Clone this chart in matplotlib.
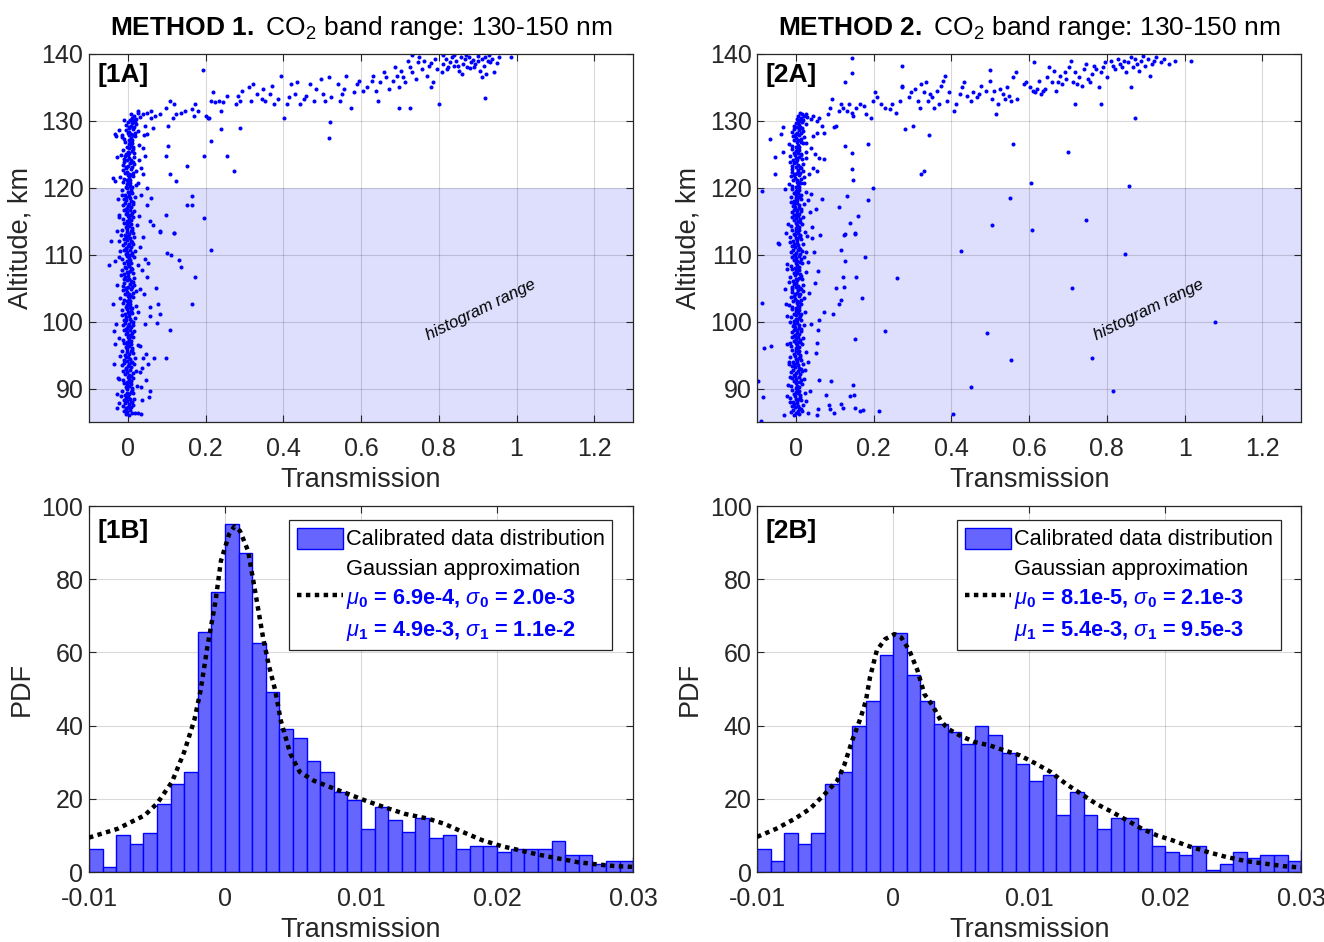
import numpy as np
import matplotlib.pyplot as plt
from matplotlib.patches import Patch
from matplotlib.lines import Line2D

plt.rcParams['font.family'] = ['Liberation Sans', 'DejaVu Sans']
plt.rcParams['mathtext.fontset'] = 'custom'
plt.rcParams['mathtext.rm'] = 'Liberation Sans'
plt.rcParams['mathtext.it'] = 'Liberation Sans:italic'
plt.rcParams['mathtext.bf'] = 'Liberation Sans:bold'

# ---------------- top panels: (transmission, altitude km) ----------------
col_1a = [
    (0.003,86.1),(-0.006,86.2),(0.011,86.4),(-0.002,86.5),(0.019,86.3),(-0.011,86.7),(0.006,86.8),(-0.004,86.95),
    (-0.005,87.05),(0.009,87.2),(0.000,87.3),(-0.013,87.45),(0.014,87.6),(0.004,87.7),(-0.008,87.85),(0.010,87.95),
    (0.008,88.0),(-0.003,88.15),(-0.010,88.25),(0.005,88.4),(0.017,88.5),(-0.006,88.65),(0.001,88.75),(-0.017,88.9),
    (-0.008,89.05),(0.002,89.15),(0.012,89.3),(-0.001,89.4),(0.007,89.55),(-0.015,89.65),(0.010,89.8),(-0.003,89.9),
    (0.010,90.1),(-0.006,90.2),(0.004,90.35),(0.024,90.45),(-0.001,90.6),(0.007,90.7),(-0.011,90.85),(0.002,90.95),
    (-0.002,91.0),(0.007,91.15),(-0.013,91.25),(0.003,91.4),(-0.022,91.5),(0.014,91.65),(0.000,91.75),(0.009,91.9),
    (0.003,92.05),(-0.007,92.15),(0.012,92.3),(-0.002,92.4),(0.020,92.55),(-0.012,92.65),(0.006,92.8),(-0.004,92.9),
    (-0.005,93.1),(0.009,93.2),(0.000,93.35),(-0.014,93.45),(0.015,93.6),(0.004,93.7),(-0.009,93.85),(0.011,93.95),
    (0.008,94.0),(-0.003,94.15),(-0.010,94.25),(0.005,94.4),(0.018,94.5),(-0.006,94.65),(0.001,94.75),(-0.019,94.9),
    (-0.008,95.05),(0.002,95.15),(0.013,95.3),(-0.001,95.4),(0.007,95.55),(-0.016,95.65),(0.010,95.8),(-0.003,95.9),
    (0.010,96.1),(-0.006,96.2),(0.004,96.35),(0.026,96.45),(-0.001,96.6),(0.007,96.7),(-0.011,96.85),(0.002,96.95),
    (-0.002,97.0),(0.007,97.15),(-0.013,97.25),(0.003,97.4),(-0.024,97.5),(0.014,97.65),(0.000,97.75),(0.009,97.9),
    (0.004,98.05),(-0.005,98.2),(0.010,98.3),(-0.001,98.45),(0.016,98.55),(-0.010,98.7),(0.005,98.8),(-0.006,98.95),
    (-0.003,99.05),(0.008,99.2),(0.001,99.3),(-0.012,99.45),(0.013,99.55),(0.003,99.7),(-0.007,99.8),(0.012,99.95),
    (0.007,100.05),(-0.004,100.2),(-0.009,100.3),(0.006,100.45),(0.019,100.55),(-0.005,100.7),(0.002,100.8),(-0.015,100.95),
    (-0.007,101.1),(0.003,101.2),(0.011,101.35),(0.000,101.45),(0.008,101.6),(-0.014,101.7),(0.009,101.85),(-0.002,101.95),
    (0.011,102.0),(-0.005,102.15),(0.005,102.25),(0.022,102.4),(-0.002,102.5),(0.006,102.65),(-0.012,102.75),(0.001,102.9),
    (-0.001,103.05),(0.006,103.15),(-0.011,103.3),(0.004,103.4),(-0.020,103.55),(0.013,103.65),(0.001,103.8),(0.008,103.9),
    (0.002,104.1),(-0.008,104.2),(0.013,104.35),(-0.003,104.45),(0.021,104.6),(-0.013,104.7),(0.007,104.85),(-0.005,104.95),
    (-0.004,105.0),(0.010,105.15),(0.001,105.25),(-0.012,105.4),(0.016,105.5),(0.005,105.65),(-0.010,105.75),(0.012,105.9),
    (0.009,106.05),(-0.002,106.15),(-0.011,106.3),(0.004,106.4),(0.017,106.55),(-0.007,106.65),(0.000,106.8),(-0.018,106.9),
    (-0.009,107.05),(0.001,107.2),(0.014,107.3),(-0.002,107.45),(0.006,107.55),(-0.015,107.7),(0.011,107.8),(-0.004,107.95),
    (0.009,108.05),(-0.007,108.2),(0.003,108.3),(0.025,108.45),(0.000,108.55),(0.008,108.7),(-0.010,108.8),(0.003,108.95),
    (-0.003,109.1),(0.006,109.2),(-0.014,109.35),(0.002,109.45),(-0.023,109.6),(0.015,109.7),(-0.001,109.85),(0.010,109.95),
    (0.003,110.0),(-0.006,110.15),(0.011,110.25),(-0.002,110.4),(0.019,110.5),(-0.011,110.65),(0.006,110.75),(-0.004,110.9),
    (-0.005,111.05),(0.009,111.15),(0.000,111.3),(-0.013,111.4),(0.014,111.55),(0.004,111.65),(-0.008,111.8),(0.010,111.9),
    (0.008,112.1),(-0.003,112.2),(-0.010,112.35),(0.005,112.45),(0.017,112.6),(-0.006,112.7),(0.001,112.85),(-0.017,112.95),
    (-0.008,113.0),(0.002,113.15),(0.012,113.25),(-0.001,113.4),(0.007,113.5),(-0.015,113.65),(0.010,113.75),(-0.003,113.9),
    (0.010,114.05),(-0.006,114.15),(0.004,114.3),(0.024,114.4),(-0.001,114.55),(0.007,114.65),(-0.011,114.8),(0.002,114.9),
    (-0.002,115.1),(0.007,115.2),(-0.013,115.35),(0.003,115.45),(-0.022,115.6),(0.014,115.7),(0.000,115.85),(0.009,115.95),
    (0.004,116.0),(-0.005,116.15),(0.010,116.25),(-0.001,116.4),(0.016,116.5),(-0.010,116.65),(0.005,116.75),(-0.006,116.9),
    (-0.003,117.05),(0.008,117.15),(0.001,117.3),(-0.012,117.4),(0.013,117.55),(0.003,117.65),(-0.007,117.8),(0.012,117.9),
    (0.007,118.1),(-0.004,118.2),(-0.009,118.35),(0.006,118.45),(0.019,118.6),(-0.005,118.7),(0.002,118.85),(-0.015,118.95),
    (-0.007,119.0),(0.003,119.15),(0.011,119.25),(0.000,119.4),(0.008,119.5),(-0.014,119.65),(0.009,119.75),(-0.002,119.9),
    (0.011,120.05),(-0.005,120.15),(0.005,120.3),(0.022,120.4),(-0.002,120.55),(0.006,120.65),(-0.012,120.8),(0.001,120.9),
    (-0.001,121.1),(0.006,121.2),(-0.011,121.35),(0.004,121.45),(-0.020,121.6),(0.013,121.7),(0.001,121.85),(0.008,121.95),
    (0.002,122.0),(-0.008,122.15),(0.013,122.25),(-0.003,122.4),(0.021,122.5),(-0.013,122.65),(0.007,122.75),(-0.005,122.9),
    (-0.004,123.05),(0.010,123.15),(0.001,123.3),(-0.012,123.4),(0.016,123.55),(0.005,123.65),(-0.010,123.8),(0.012,123.9),
    (0.009,124.1),(-0.002,124.2),(-0.011,124.35),(0.004,124.45),(0.017,124.6),(-0.007,124.7),(0.000,124.85),(-0.018,124.95),
    (-0.006,125.0),(0.004,125.15),(0.017,125.25),(0.001,125.4),(0.010,125.5),(-0.012,125.65),(0.014,125.75),(0.002,125.9),
    (0.014,126.05),(-0.003,126.15),(0.008,126.3),(0.028,126.4),(0.003,126.55),(0.011,126.65),(-0.008,126.8),(0.006,126.9),
    (0.002,127.1),(0.011,127.2),(-0.009,127.35),(0.007,127.45),(-0.016,127.6),(0.019,127.7),(0.004,127.85),(0.014,127.95),
    (0.009,128.0),(0.000,128.15),(0.018,128.25),(0.004,128.4),(0.026,128.5),(-0.005,128.65),(0.012,128.75),(0.002,128.9),
    (0.004,129.05),(0.016,129.15),(0.007,129.3),(-0.006,129.4),(0.022,129.55),(0.011,129.65),(0.000,129.8),(0.018,129.9),
    (0.014,130.1),(0.005,130.2),(0.022,130.35),(0.010,130.45),(0.030,130.6),(0.017,130.8),(0.008,131.0),(0.025,131.2),
]

halo_1a = [
    (-0.049,108.5),(-0.033,109.0),(-0.038,102.6),(-0.036,98.6),(-0.033,96.6),(-0.035,93.7),(-0.029,89.2),(-0.029,87.1),
    (-0.025,91.6),(-0.022,112.1),(-0.020,110.6),(0.031,111.2),(0.038,112.6),(0.044,109.35),(0.053,108.75),(0.036,107.7),
    (0.049,106.6),(0.073,105.0),(0.041,104.1),(0.057,102.2),(0.077,102.7),(0.082,101.1),(0.076,99.85),(0.058,100.85),
    (0.043,99.6),(0.031,96.35),(0.047,95.2),(0.067,94.6),(0.051,93.6),(0.038,94.6),(0.046,91.35),(0.057,89.6),
    (0.055,88.7),(0.036,88.35),(0.027,86.35),(0.034,86.2),(0.101,110.2),(0.112,110.0),(0.131,109.2),(0.136,108.2),
    (0.082,113.35),(0.119,113.2),(0.172,106.7),(0.164,102.7),(0.214,110.7),(0.109,98.7),(0.098,94.6),
    (0.038,126.0),(0.044,124.75),(0.033,123.0),(0.038,122.0),(0.027,120.75),(0.049,120.0),(0.060,118.5),(0.049,117.5),
    (0.058,115.0),(0.065,114.5),(0.082,113.5),(0.120,113.25),(0.098,116.0),(0.125,121.0),(0.153,123.25),(0.164,118.75),
    (0.153,117.5),(0.164,117.4),(0.196,115.5),(0.213,127.0),(0.240,128.75),(0.256,124.75),(0.273,122.5),(0.104,126.25),
    (0.098,124.75),(0.109,122.0),(-0.038,121.5),(-0.033,121.0),(-0.044,112.0),(-0.027,113.5),(0.289,129.0),
    (-0.026,118.4),(-0.024,116.0),(0.028,115.8),(0.032,104.9),(0.026,101.5),(-0.027,105.5),(0.030,92.4),(-0.031,99.7),
    (0.035,118.9),(0.029,124.2),(-0.028,124.6),(0.042,127.9),(-0.030,127.8),(0.036,93.0),(0.033,90.2),(-0.023,87.8),
]

arc_1a = [
    (-0.033,128.0),(-0.022,128.6),(-0.016,127.9),(-0.009,130.2),(0.027,131.5),(0.038,131.0),(0.049,131.25),(0.060,131.5),
    (0.071,130.75),(0.082,131.0),(0.060,130.5),(0.065,129.0),(0.044,129.25),(0.049,128.0),(0.098,132.0),(0.109,133.0),
    (0.120,132.5),(0.125,131.0),(0.136,131.25),(0.147,131.5),(0.164,131.75),(0.169,130.75),(0.180,131.5),(0.174,132.5),
    (0.104,129.25),(0.115,130.5),(0.200,130.75),(0.207,130.5),(0.213,133.0),(0.218,134.25),(0.224,132.75),(0.234,133.0),
    (0.240,131.5),(0.245,132.75),(0.256,133.75),(0.278,132.5),(0.284,133.75),(0.289,133.0),(0.294,134.5),(0.311,135.0),
    (0.316,133.0),(0.322,135.5),(0.333,134.0),(0.344,133.25),(0.349,134.75),(0.354,133.0),(0.365,134.0),(0.371,135.25),
    (0.376,132.5),(0.387,133.25),(0.393,136.75),(0.403,130.5),(0.409,132.5),(0.414,133.5),(0.420,135.5),(0.431,134.0),
    (0.436,135.75),(0.442,132.5),(0.453,133.25),(0.458,133.75),(0.469,135.5),(0.480,133.0),(0.485,134.75),(0.496,136.25),
    (0.502,134.0),(0.507,133.0),(0.518,136.5),(0.523,133.5),(0.540,135.5),(0.545,133.0),(0.551,134.0),(0.556,134.75),
    (0.562,136.75),(0.573,132.0),(0.583,134.25),(0.589,135.5),(0.594,136.0),(0.605,134.5),(0.616,135.0),(0.627,136.0),
    (0.632,136.75),(0.638,134.5),(0.643,133.0),(0.649,135.75),(0.660,137.25),(0.665,136.5),(0.671,134.75),(0.682,136.0),
    (0.687,138.0),(0.692,136.75),(0.698,135.0),(0.703,137.5),(0.709,136.5),(0.714,135.75),(0.720,139.0),(0.725,138.0),
    (0.731,137.25),(0.742,136.25),(0.747,138.75),(0.758,137.75),(0.763,139.0),(0.769,136.75),(0.774,138.25),(0.780,135.0),
    (0.785,135.75),(0.791,139.25),(0.796,137.75),(0.807,137.25),(0.812,138.5),(0.818,139.25),(0.823,138.0),(0.829,138.75),
    (0.834,139.5),(0.840,138.25),(0.845,139.0),(0.851,137.5),(0.856,139.5),(0.861,138.5),(0.867,139.25),(0.872,138.0),
    (0.878,139.6),(0.883,138.75),(0.889,139.1),(0.894,138.5),(0.900,139.75),(0.905,137.5),(0.911,139.25),(0.916,138.25),
    (0.921,137.0),(0.927,139.0),(0.932,138.75),(0.938,139.25),(0.943,137.25),(0.954,139.5),(0.987,139.5),
    (0.820,137.8),(0.850,138.2),(0.870,139.8),(0.880,137.9),(0.900,138.9),(0.920,139.5),(0.860,137.0),(0.840,139.8),
    (0.950,138.6),(0.930,139.9),(0.890,138.0),(0.810,139.9),(0.780,138.6),(0.750,139.6),(0.730,139.8),
    (0.725,132.0),(0.800,132.5),(0.918,133.4),(0.910,136.5),(0.698,132.0),(0.194,137.65),(0.196,124.75),(0.517,127.5),
    (0.520,129.9),(0.210,130.4),
]

col_2a = [
    (-0.004,86.05),(0.008,86.2),(0.001,86.3),(-0.012,86.45),(0.016,86.6),(0.005,86.7),(-0.008,86.85),(0.012,86.95),
    (0.009,87.1),(-0.002,87.2),(-0.009,87.35),(0.006,87.45),(0.018,87.6),(-0.005,87.7),(0.002,87.85),(-0.016,87.95),
    (-0.007,88.0),(0.003,88.15),(0.012,88.25),(0.000,88.4),(0.008,88.5),(-0.014,88.65),(0.011,88.75),(-0.002,88.9),
    (0.011,89.05),(-0.005,89.15),(0.005,89.3),(0.023,89.4),(0.000,89.55),(0.008,89.65),(-0.010,89.8),(0.003,89.9),
    (-0.001,90.1),(0.008,90.2),(-0.012,90.35),(0.004,90.45),(-0.020,90.6),(0.015,90.7),(0.001,90.85),(0.010,90.95),
    (0.004,91.0),(-0.006,91.15),(0.012,91.25),(-0.001,91.4),(0.020,91.5),(-0.011,91.65),(0.007,91.75),(-0.003,91.9),
    (-0.004,92.05),(0.010,92.15),(0.001,92.3),(-0.013,92.4),(0.016,92.55),(0.005,92.65),(-0.008,92.8),(0.012,92.9),
    (0.009,93.1),(-0.002,93.2),(-0.009,93.35),(0.006,93.45),(0.019,93.6),(-0.005,93.7),(0.002,93.85),(-0.018,93.95),
    (-0.007,94.0),(0.003,94.15),(0.014,94.25),(0.000,94.4),(0.008,94.5),(-0.015,94.65),(0.011,94.75),(-0.002,94.9),
    (0.011,95.05),(-0.005,95.15),(0.005,95.3),(0.027,95.4),(0.000,95.55),(0.008,95.65),(-0.010,95.8),(0.003,95.9),
    (-0.001,96.1),(0.008,96.2),(-0.012,96.35),(0.004,96.45),(-0.023,96.6),(0.015,96.7),(0.001,96.85),(0.010,96.95),
    (0.005,97.0),(-0.004,97.15),(0.011,97.25),(0.000,97.4),(0.017,97.5),(-0.009,97.65),(0.006,97.75),(-0.005,97.9),
    (-0.002,98.05),(0.009,98.2),(0.002,98.3),(-0.011,98.45),(0.014,98.55),(0.004,98.7),(-0.006,98.8),(0.013,98.95),
    (0.008,99.05),(-0.003,99.2),(-0.008,99.3),(0.007,99.45),(0.020,99.55),(-0.004,99.7),(0.003,99.8),(-0.014,99.95),
    (-0.006,100.05),(0.004,100.2),(0.012,100.3),(0.001,100.45),(0.009,100.55),(-0.013,100.7),(0.010,100.8),(-0.001,100.95),
    (0.012,101.1),(-0.004,101.2),(0.006,101.35),(0.023,101.45),(-0.001,101.6),(0.007,101.7),(-0.011,101.85),(0.002,101.95),
    (0.000,102.0),(0.007,102.15),(-0.010,102.25),(0.005,102.4),(-0.019,102.5),(0.014,102.65),(0.002,102.75),(0.009,102.9),
    (0.003,103.05),(-0.007,103.15),(0.014,103.3),(-0.002,103.4),(0.022,103.55),(-0.012,103.65),(0.008,103.8),(-0.004,103.9),
    (-0.003,104.1),(0.011,104.2),(0.002,104.35),(-0.011,104.45),(0.017,104.6),(0.006,104.7),(-0.009,104.85),(0.013,104.95),
    (0.010,105.0),(-0.001,105.15),(-0.010,105.25),(0.005,105.4),(0.018,105.5),(-0.006,105.65),(0.001,105.75),(-0.017,105.9),
    (-0.008,106.05),(0.002,106.15),(0.015,106.3),(-0.001,106.4),(0.007,106.55),(-0.014,106.65),(0.012,106.8),(-0.003,106.9),
    (0.010,107.05),(-0.006,107.2),(0.004,107.3),(0.026,107.45),(0.001,107.55),(0.009,107.7),(-0.009,107.8),(0.004,107.95),
    (-0.002,108.05),(0.007,108.2),(-0.013,108.3),(0.003,108.45),(-0.022,108.55),(0.016,108.7),(0.000,108.8),(0.011,108.95),
    (0.004,109.1),(-0.005,109.2),(0.012,109.35),(-0.001,109.45),(0.020,109.6),(-0.010,109.7),(0.007,109.85),(-0.003,109.95),
    (-0.004,110.0),(0.010,110.15),(0.001,110.25),(-0.012,110.4),(0.015,110.5),(0.005,110.65),(-0.007,110.75),(0.011,110.9),
    (0.009,111.05),(-0.002,111.15),(-0.009,111.3),(0.006,111.4),(0.018,111.55),(-0.005,111.65),(0.002,111.8),(-0.016,111.9),
    (-0.007,112.1),(0.003,112.2),(0.013,112.35),(0.000,112.45),(0.008,112.6),(-0.014,112.7),(0.011,112.85),(-0.002,112.95),
    (0.011,113.0),(-0.005,113.15),(0.005,113.25),(0.024,113.4),(0.000,113.5),(0.008,113.65),(-0.010,113.75),(0.003,113.9),
    (-0.001,114.05),(0.008,114.15),(-0.012,114.3),(0.004,114.4),(-0.021,114.55),(0.015,114.65),(0.001,114.8),(0.010,114.9),
    (0.005,115.1),(-0.004,115.2),(0.011,115.35),(0.000,115.45),(0.017,115.6),(-0.009,115.7),(0.006,115.85),(-0.005,115.95),
    (-0.002,116.0),(0.009,116.15),(0.002,116.25),(-0.011,116.4),(0.014,116.5),(0.004,116.65),(-0.006,116.75),(0.013,116.9),
    (0.008,117.05),(-0.003,117.15),(-0.008,117.3),(0.007,117.4),(0.021,117.55),(-0.004,117.65),(0.003,117.8),(-0.013,117.9),
    (-0.006,118.1),(0.004,118.2),(0.012,118.35),(0.001,118.45),(0.009,118.6),(-0.013,118.7),(0.010,118.85),(-0.001,118.95),
    (0.012,119.0),(-0.004,119.15),(0.006,119.25),(0.025,119.4),(-0.001,119.5),(0.007,119.65),(-0.011,119.75),(0.002,119.9),
    (0.000,120.05),(0.007,120.15),(-0.010,120.3),(0.005,120.4),(-0.018,120.55),(0.014,120.65),(0.002,120.8),(0.009,120.9),
    (0.003,121.1),(-0.007,121.2),(0.014,121.35),(-0.002,121.45),(0.022,121.6),(-0.012,121.7),(0.008,121.85),(-0.004,121.95),
    (-0.003,122.0),(0.011,122.15),(0.002,122.25),(-0.011,122.4),(0.017,122.5),(0.006,122.65),(-0.009,122.75),(0.013,122.9),
    (0.010,123.05),(-0.001,123.15),(-0.010,123.3),(0.005,123.4),(0.018,123.55),(-0.006,123.65),(0.001,123.8),(-0.015,123.9),
    (-0.008,124.1),(0.002,124.2),(0.015,124.35),(-0.001,124.45),(0.007,124.6),(-0.014,124.7),(0.012,124.85),(-0.003,124.95),
    (0.012,125.0),(-0.005,125.15),(0.005,125.25),(0.026,125.4),(0.001,125.5),(0.009,125.65),(-0.009,125.75),(0.004,125.9),
    (-0.001,126.05),(0.009,126.15),(-0.011,126.3),(0.005,126.4),(-0.018,126.55),(0.017,126.65),(0.002,126.8),(0.012,126.9),
    (0.006,127.1),(-0.004,127.2),(0.014,127.35),(0.001,127.45),(0.022,127.6),(-0.008,127.7),(0.009,127.85),(-0.003,127.95),
    (0.000,128.0),(0.012,128.15),(0.004,128.25),(-0.009,128.4),(0.019,128.5),(0.008,128.65),(-0.005,128.75),(0.016,128.9),
    (0.011,129.05),(0.002,129.15),(-0.006,129.3),(0.009,129.4),(0.025,129.55),(0.000,129.65),(0.005,129.8),(0.015,129.9),
    (0.008,130.1),(0.018,130.2),(0.003,130.35),(0.012,130.5),(0.028,130.65),(0.006,130.8),(0.016,131.0),(0.011,131.2),
]

halo_2a = [
    (-0.090,85.2),(-0.088,102.75),(-0.098,91.2),(-0.086,88.7),(-0.082,96.1),(-0.064,96.3),(-0.047,111.75),(-0.030,86.1),
    (-0.026,102.7),(-0.024,100.8),(-0.019,93.7),(-0.015,96.8),(-0.016,91.7),(0.029,112.8),(0.042,112.45),(0.061,113.0),
    (0.046,110.45),(0.057,107.5),(0.048,105.7),(0.071,101.4),(0.060,100.2),(0.057,98.7),(0.053,96.8),(0.051,95.35),
    (0.059,91.35),(0.077,89.0),(0.084,87.6),(0.091,91.2),(0.096,101.1),(0.102,105.1),(0.110,102.7),(0.115,103.25),
    (0.115,110.7),(0.126,109.1),(0.126,113.1),(0.120,106.6),(0.123,105.2),(0.151,113.1),(0.154,106.7),(0.170,103.5),
    (0.177,109.6),(0.151,97.45),(0.148,90.5),(0.150,89.1),(0.138,88.95),(0.115,87.7),(0.120,87.1),(0.099,86.35),
    (0.088,87.0),(0.058,87.0),(0.053,86.1),(0.030,86.3),(0.151,87.1),(0.164,86.6),(0.173,86.8),(0.214,86.6),
    (0.230,98.6),(0.261,106.45),(0.404,86.2),(0.425,110.5),(0.451,90.2),(0.491,98.35),(0.553,94.3),(0.711,105.0),
    (0.762,94.5),(0.816,89.6),(0.846,110.1),(1.077,99.9),
    (-0.088,119.5),(-0.068,127.25),(-0.053,124.6),(-0.053,122.0),(-0.038,128.0),(-0.033,129.1),(-0.033,125.4),(-0.044,111.6),
    (0.126,126.25),(0.143,125.25),(0.143,122.75),(0.148,121.1),(0.186,126.5),(0.186,118.25),(0.197,119.9),(0.159,115.75),
    (0.140,114.75),(0.151,113.25),(0.132,118.75),(0.110,117.1),(0.123,113.0),(0.323,122.0),(0.330,122.5),(0.342,127.9),
    (0.559,126.5),(0.550,118.5),(0.504,114.5),(0.606,120.75),(0.608,113.75),(0.700,125.35),(0.746,115.15),(0.857,120.25),
    (0.872,130.5),
    (0.032,118.2),(0.036,116.4),(0.041,114.2),(0.030,108.9),(0.034,104.3),(0.038,99.6),(0.031,94.0),(0.035,89.6),
    (-0.027,119.8),(-0.025,113.3),(-0.022,107.8),(-0.028,104.9),(0.045,122.9),(0.040,119.1),(0.066,118.3),(0.052,116.9),
    (0.026,88.2),(0.024,92.8),(0.027,110.4),(-0.023,88.9),
]

arc_2a = [
    (0.011,130.0),(0.022,130.75),(0.027,131.0),(0.038,130.25),(0.044,130.75),(0.055,130.0),(0.060,130.5),(0.066,129.25),
    (0.071,128.25),(0.055,128.25),(0.044,127.75),(0.027,126.75),(0.038,126.0),(0.049,125.0),(0.060,124.5),(0.071,124.25),
    (0.055,122.5),(0.027,124.5),(0.033,122.0),(0.022,120.75),
    (0.082,131.0),(0.088,132.0),(0.093,133.25),(0.099,129.1),(0.104,129.25),(0.110,131.5),(0.115,132.5),(0.121,132.0),
    (0.132,131.5),(0.137,132.5),(0.143,131.25),(0.148,130.75),(0.154,132.0),(0.164,132.5),(0.175,132.25),(0.181,131.0),
    (0.192,130.5),(0.197,133.0),(0.203,134.25),(0.208,133.5),(0.219,132.5),(0.230,132.0),(0.241,131.75),(0.247,132.5),
    (0.258,131.25),(0.269,133.0),(0.274,135.0),(0.280,128.75),(0.291,133.5),(0.296,134.25),(0.302,129.25),(0.307,134.75),
    (0.313,133.0),(0.318,132.0),(0.323,135.5),(0.329,134.25),(0.334,135.75),(0.340,133.0),(0.345,134.0),(0.351,133.5),
    (0.356,132.0),(0.362,134.5),(0.367,132.5),(0.373,135.25),(0.378,136.0),(0.389,133.0),(0.395,134.25),(0.406,131.5),
    (0.411,132.5),(0.422,134.0),(0.428,135.0),(0.433,135.75),(0.439,133.75),(0.450,133.0),(0.455,134.25),(0.466,133.5),
    (0.471,134.0),(0.477,135.25),(0.488,134.5),(0.499,136.0),(0.504,133.25),(0.510,134.5),(0.515,131.0),(0.521,132.5),
    (0.526,134.75),(0.532,134.0),(0.537,133.25),(0.543,135.0),(0.548,133.75),(0.554,133.0),(0.559,136.5),(0.565,137.25),
    (0.570,133.25),(0.587,135.5),(0.592,135.75),(0.603,135.0),(0.609,134.5),(0.614,134.25),(0.620,134.75),(0.625,136.0),
    (0.630,134.0),(0.636,134.5),(0.641,134.75),(0.647,136.5),(0.652,138.0),(0.658,135.75),(0.663,137.5),(0.669,134.5),
    (0.674,135.75),(0.680,136.75),(0.685,135.5),(0.691,137.25),(0.696,136.25),(0.702,138.0),(0.707,139.0),(0.713,135.75),
    (0.718,137.25),(0.724,135.5),(0.729,136.5),(0.735,135.25),(0.740,137.75),(0.746,138.5),(0.751,136.25),(0.757,135.75),
    (0.762,137.0),(0.768,138.25),(0.773,137.75),(0.779,135.0),(0.784,137.25),(0.789,138.0),(0.795,138.75),(0.800,136.5),
    (0.811,139.0),(0.817,138.25),(0.822,137.75),(0.828,139.25),(0.833,138.5),(0.839,138.0),(0.844,139.0),(0.850,137.25),
    (0.855,138.75),(0.861,139.5),(0.866,138.0),(0.872,139.25),(0.877,138.5),(0.883,137.5),(0.888,139.0),(0.894,139.75),
    (0.899,138.25),(0.905,139.25),(0.910,136.75),(0.916,138.5),(0.921,139.0),(0.927,139.5),(0.938,138.75),(0.948,139.25),
    (0.959,138.5),(0.976,139.0),
    (0.143,139.4),(0.143,137.1),(0.126,135.75),(0.272,138.25),(0.272,135.15),(0.384,136.75),(0.500,137.6),(0.612,138.85),
    (1.016,139.0),(0.718,132.5),(0.786,132.5),(0.861,135.0),
]

# ---------------- bottom panels: histograms ----------------
bin_left = np.round(np.arange(-0.010, 0.0305, 0.001), 3)
hist_1b = [6.2, 1.4, 10.0, 7.6, 10.7, 18.6, 24.0, 27.2, 65.5, 76.5, 95.0, 87.3, 62.5, 49.2,
           39.0, 36.6, 30.3, 27.2, 21.8, 19.6, 11.7, 17.9, 14.1, 10.8, 14.8, 9.4, 10.0, 6.2,
           7.0, 7.0, 5.5, 6.2, 6.2, 6.2, 8.5, 4.6, 4.6, 2.3, 3.0, 3.0, 4.0]
hist_2b = [6.2, 3.0, 10.7, 7.7, 10.7, 24.0, 27.2, 39.9, 46.6, 59.2, 65.3, 53.8, 46.6, 40.5,
           38.2, 35.1, 39.8, 37.4, 32.6, 29.6, 25.0, 26.4, 15.5, 21.8, 15.5, 11.7, 14.8, 14.8,
           11.7, 7.0, 5.4, 4.6, 7.0, 0.6, 2.3, 5.4, 3.9, 4.6, 4.6, 3.1, 6.0]

fit_1b_x = [-0.0100, -0.0079, -0.0059, -0.0050, -0.0039, -0.0030, -0.00225, -0.0018, -0.0013, -0.0007,
            -0.0003, 0.0003, 0.0007, 0.0011, 0.0017, 0.00225, 0.0028, 0.0032, 0.0037, 0.0041,
            0.0048, 0.0055, 0.0065, 0.0076, 0.0090, 0.0104, 0.0118, 0.0132, 0.0149, 0.0161,
            0.0175, 0.0189, 0.0203, 0.0217, 0.0231, 0.0245, 0.0259, 0.0273, 0.0287, 0.0300]
fit_1b_y = [9.4, 11.8, 15.5, 18.7, 24.6, 32.8, 41.6, 49.5, 61.4, 74.0,
            85.0, 92.3, 94.5, 93.2, 87.7, 75.9, 64.0, 56.8, 49.5, 41.4,
            32.3, 27.3, 25.0, 23.4, 21.4, 19.4, 17.6, 15.9, 14.6, 13.2,
            10.9, 8.7, 7.1, 5.9, 4.7, 3.7, 2.7, 2.1, 1.6, 1.4]
fit_2b_x = [-0.0100, -0.0086, -0.0072, -0.0061, -0.0050, -0.0041, -0.0036, -0.0030, -0.0024, -0.0020,
            -0.0017, -0.0012, -0.0006, 0.0001, 0.0006, 0.0012, 0.0018, 0.0023, 0.0029, 0.0035,
            0.0040, 0.0049, 0.0060, 0.0071, 0.0082, 0.0093, 0.0105, 0.0116, 0.0127, 0.0138,
            0.0149, 0.0161, 0.0172, 0.0183, 0.0194, 0.0205, 0.0217, 0.0231, 0.0245, 0.0259,
            0.0273, 0.0287, 0.0300]
fit_2b_y = [9.6, 11.8, 14.6, 17.3, 21.4, 25.0, 29.1, 36.0, 42.0, 46.8,
            53.2, 60.5, 63.6, 65.0, 64.1, 60.5, 55.0, 48.6, 45.5, 41.4,
            39.2, 37.3, 35.5, 34.6, 33.2, 31.9, 29.6, 27.3, 24.1, 21.4,
            18.7, 16.4, 14.1, 11.8, 10.0, 8.7, 7.1, 5.5, 4.1, 3.0,
            2.3, 1.6, 1.2]

fit_labels_1b = [r'$\mu_{\mathbf{0}}$ = 6.9e-4, $\sigma_{\mathbf{0}}$ = 2.0e-3',
                 r'$\mu_{\mathbf{1}}$ = 4.9e-3, $\sigma_{\mathbf{1}}$ = 1.1e-2']
fit_labels_2b = [r'$\mu_{\mathbf{0}}$ = 8.1e-5, $\sigma_{\mathbf{0}}$ = 2.1e-3',
                 r'$\mu_{\mathbf{1}}$ = 5.4e-3, $\sigma_{\mathbf{1}}$ = 9.5e-3']

TXT = '#262626'
BAR_FACE = (0.4, 0.4, 1.0)

fig = plt.figure(figsize=(13.24, 9.42), dpi=100)
ax1a = fig.add_axes([0.0672, 0.552, 0.411, 0.3907])
ax2a = fig.add_axes([0.5718, 0.552, 0.411, 0.3907])
ax1b = fig.add_axes([0.0672, 0.0743, 0.411, 0.3885])
ax2b = fig.add_axes([0.5718, 0.0743, 0.411, 0.3885])


def style(ax):
    ax.set_axisbelow(True)
    ax.grid(True, color='k', alpha=0.15, lw=0.8)
    ax.tick_params(direction='in', top=True, right=True, length=5, width=0.8,
                   labelsize=18, colors=TXT)
    ax.tick_params(axis='x', pad=11)
    ax.tick_params(axis='y', pad=4)
    for s in ax.spines.values():
        s.set_color(TXT)
        s.set_linewidth(0.9)


def scatter_panel(ax, groups, tag, method):
    ax.axhspan(85, 120, color='#DEDEFD', zorder=0.2, lw=0)
    for g in groups:
        tr = [p[0] for p in g]
        alt = [p[1] for p in g]
        ax.plot(tr, alt, 'o', color='blue', ms=2.9, mew=0, zorder=2)
    ax.set_xlim(-0.1, 1.3)
    ax.set_ylim(85, 140)
    ax.set_xticks([0, 0.2, 0.4, 0.6, 0.8, 1.0, 1.2])
    ax.set_xticklabels(['0', '0.2', '0.4', '0.6', '0.8', '1', '1.2'])
    ax.set_yticks([90, 100, 110, 120, 130, 140])
    style(ax)
    ax.set_xlabel('Transmission', fontsize=19.5, color=TXT, labelpad=4)
    ax.set_ylabel('Altitude, km', fontsize=19.5, color=TXT, labelpad=6)
    ax.set_title(r'$\mathbf{METHOD\ ' + method + r'.}$ CO$_2$ band range: 130-150 nm',
                 fontsize=19, color='k', pad=14)
    ax.text(0.016, 0.975, tag, transform=ax.transAxes, fontsize=19, fontweight='bold',
            va='top', ha='left', color='k')
    ax.text(0.907, 101.8, 'histogram range', rotation=26, style='italic', fontsize=12,
            ha='center', va='center', color='k')


def hist_panel(ax, heights, fx, fy, labels, tag):
    ax.bar(bin_left, heights, width=0.001, align='edge', color=BAR_FACE,
           edgecolor='blue', lw=1.0, zorder=2)
    ax.plot(fx, fy, color='k', lw=3.2, ls=(0, (1, 1)), zorder=3)
    ax.set_xlim(-0.01, 0.03)
    ax.set_ylim(0, 100)
    ax.set_xticks([-0.01, 0, 0.01, 0.02, 0.03])
    ax.set_xticklabels(['-0.01', '0', '0.01', '0.02', '0.03'])
    ax.set_yticks([0, 20, 40, 60, 80, 100])
    style(ax)
    ax.set_xlabel('Transmission', fontsize=19.5, color=TXT, labelpad=4)
    ax.set_ylabel('PDF', fontsize=19.5, color=TXT, labelpad=5)
    ax.text(0.016, 0.965, tag, transform=ax.transAxes, fontsize=19, fontweight='bold',
            va='top', ha='left', color='k')
    handles = [Patch(facecolor=BAR_FACE, edgecolor='blue', lw=1.0),
               Line2D([], [], color='none'),
               Line2D([], [], color='k', lw=3.2, ls=(0, (1, 1))),
               Line2D([], [], color='none')]
    texts = ['Calibrated data distribution', 'Gaussian approximation'] + labels
    leg = ax.legend(handles, texts, loc='upper right', bbox_to_anchor=(0.962, 0.962),
                    borderaxespad=0, fontsize=15.7, handlelength=2.1, handleheight=1.1,
                    handletextpad=0.15, labelspacing=0.3, borderpad=0.35,
                    fancybox=False, framealpha=1, edgecolor=TXT)
    leg.get_frame().set_linewidth(0.9)
    for t in leg.get_texts()[2:]:
        t.set_color('blue')
        t.set_fontweight('bold')
    leg.set_zorder(5)


scatter_panel(ax1a, [col_1a, halo_1a, arc_1a], '[1A]', '1')
scatter_panel(ax2a, [col_2a, halo_2a, arc_2a], '[2A]', '2')
hist_panel(ax1b, hist_1b, fit_1b_x, fit_1b_y, fit_labels_1b, '[1B]')
hist_panel(ax2b, hist_2b, fit_2b_x, fit_2b_y, fit_labels_2b, '[2B]')

fig.savefig('out.png', dpi=100, facecolor='white')
